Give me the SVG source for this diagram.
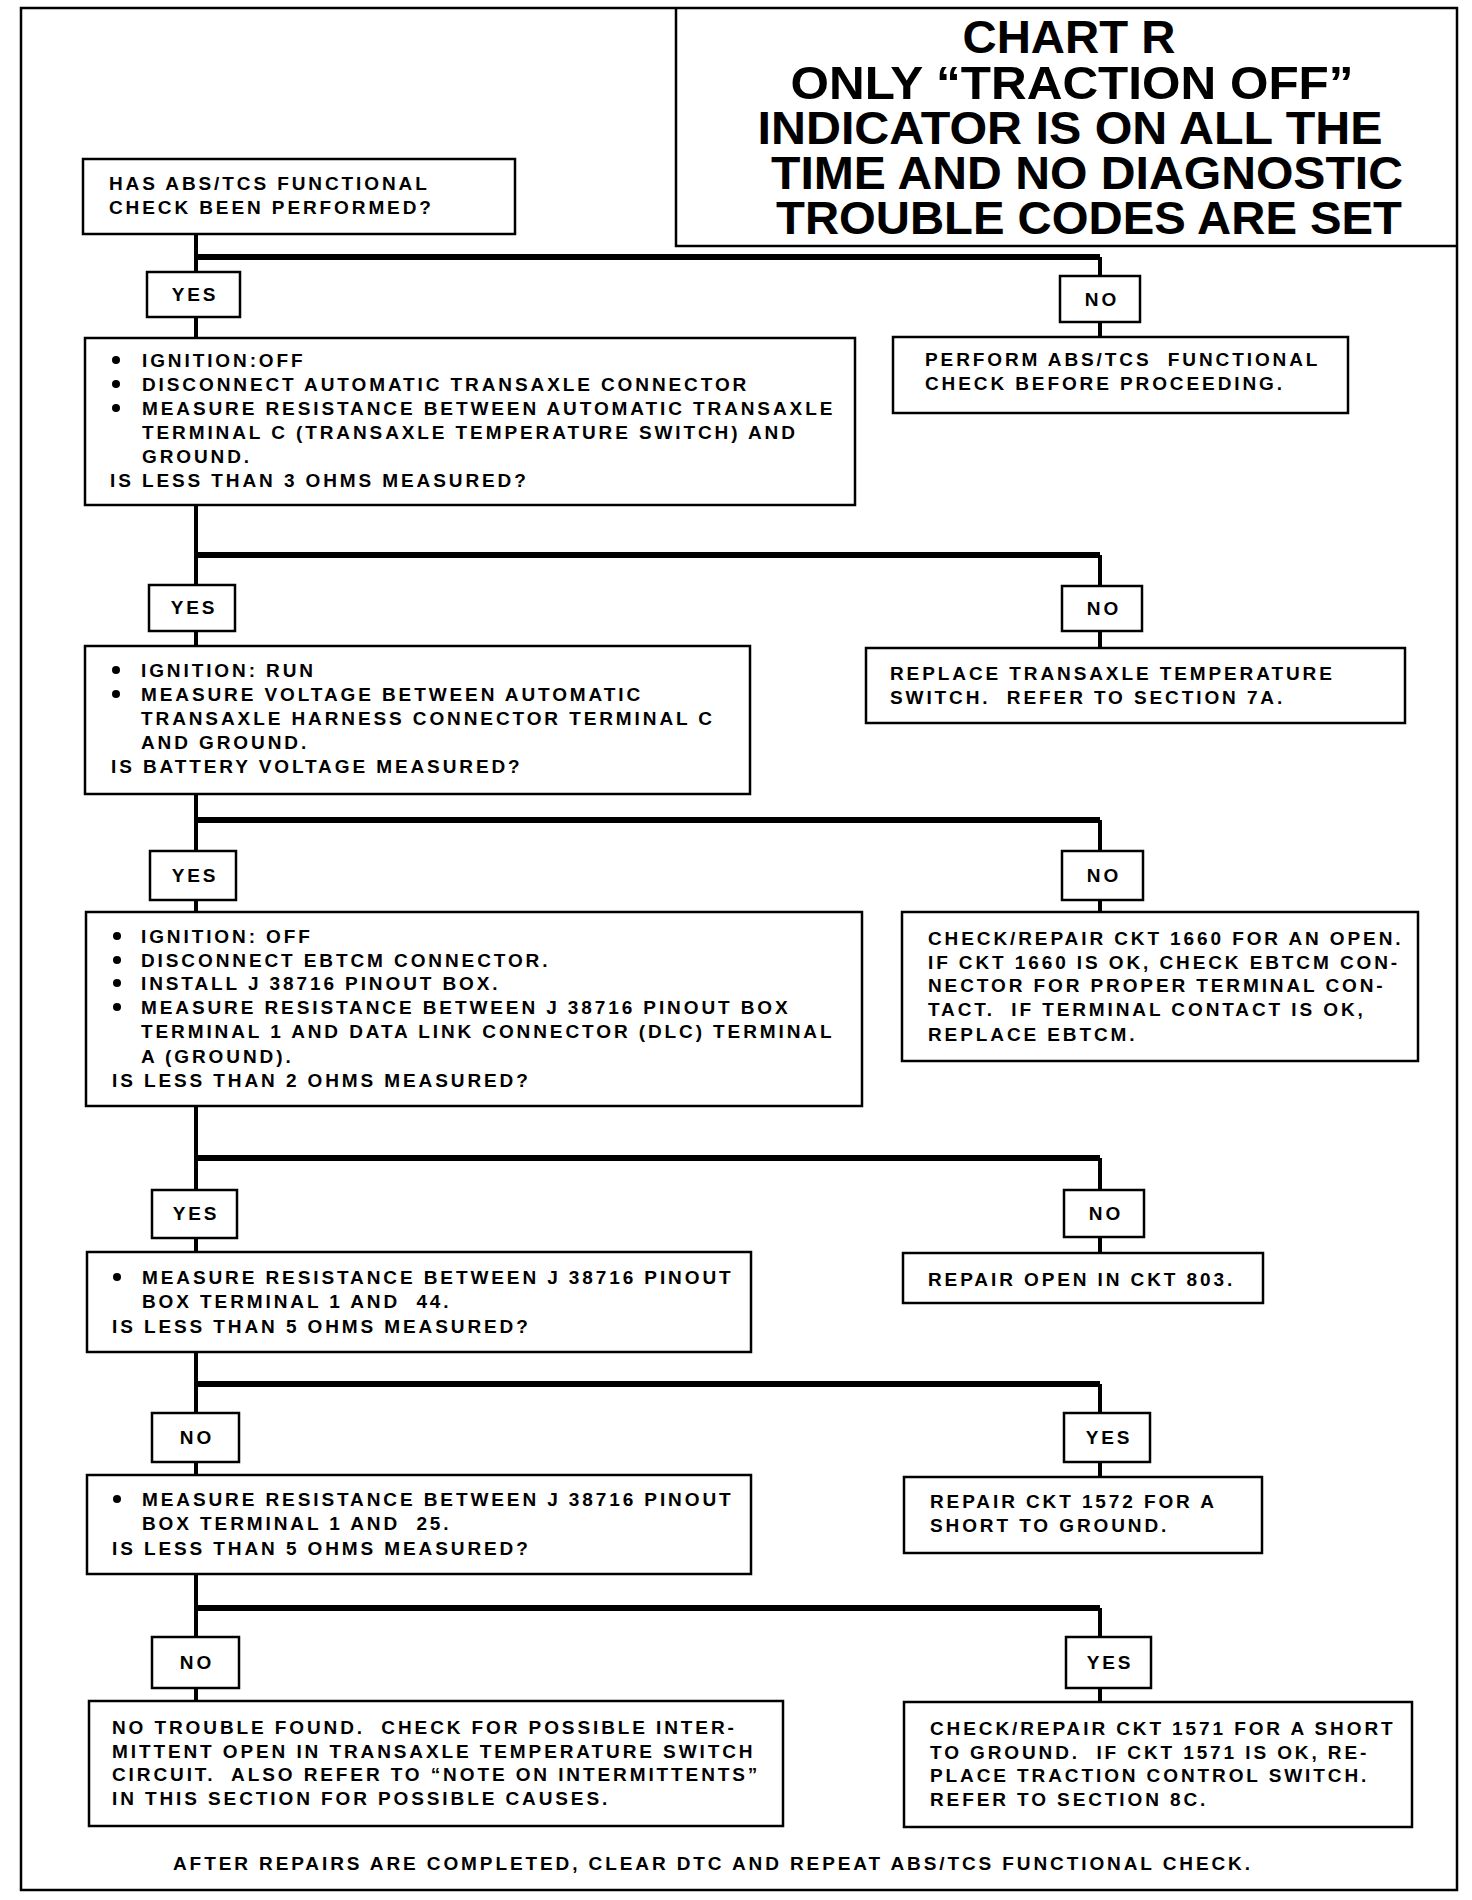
<svg xmlns="http://www.w3.org/2000/svg" width="1472" height="1900" viewBox="0 0 1472 1900">
<style>
.bx{fill:#fff;stroke:#000;stroke-width:2.5}
.fr{fill:none;stroke:#000;stroke-width:2.5}
.t{font-family:"Liberation Sans",Arial,sans-serif;font-size:19px;font-weight:bold;letter-spacing:2.9px;fill:#000;white-space:pre}
.lb{font-family:"Liberation Sans",Arial,sans-serif;font-size:19px;font-weight:bold;letter-spacing:2.9px;fill:#000;text-anchor:middle}
.ti{font-family:"Liberation Sans",Arial,sans-serif;font-size:47px;font-weight:bold;fill:#000;text-anchor:middle;white-space:pre}
.v{stroke:#000;stroke-width:4;fill:none}
.h{stroke:#000;stroke-width:6;fill:none}
</style>
<rect x="0" y="0" width="1472" height="1900" fill="#fff"/>
<rect class="fr" x="21" y="8" width="1436" height="1882"/>
<g id="title">
<path class="fr" d="M676 8 V246 H1457"/>
<text class="ti"><tspan x="1069" y="53" textLength="213" lengthAdjust="spacingAndGlyphs">CHART R</tspan><tspan x="1072" y="99" textLength="563" lengthAdjust="spacingAndGlyphs">ONLY “TRACTION OFF”</tspan><tspan x="1070" y="144" textLength="625" lengthAdjust="spacingAndGlyphs">INDICATOR IS ON ALL THE</tspan><tspan x="1087" y="189" textLength="632" lengthAdjust="spacingAndGlyphs">TIME AND NO DIAGNOSTIC</tspan><tspan x="1089" y="234" textLength="626" lengthAdjust="spacingAndGlyphs">TROUBLE CODES ARE SET</tspan></text>
</g>
<g id="connectors">
<path class="v" d="M196 234 V272 M1100 257 V276 M196 317 V338 M1100 322 V337"/>
<path class="h" d="M196 257 H1100"/>
<path class="v" d="M196 505 V585 M1100 555 V586 M196 631 V646 M1100 631 V648"/>
<path class="h" d="M196 555 H1100"/>
<path class="v" d="M196 794 V851 M1100 820 V851 M196 900 V912 M1100 900 V912"/>
<path class="h" d="M196 820 H1100"/>
<path class="v" d="M196 1106 V1190 M1100 1158 V1190 M196 1238 V1252 M1100 1237 V1253"/>
<path class="h" d="M196 1158 H1100"/>
<path class="v" d="M196 1352 V1413 M1100 1384 V1413 M196 1462 V1475 M1100 1462 V1477"/>
<path class="h" d="M196 1384 H1100"/>
<path class="v" d="M196 1574 V1637 M1100 1608 V1637 M196 1688 V1701 M1100 1688 V1702"/>
<path class="h" d="M196 1608 H1100"/>
</g>
<g id="nodeA">
<rect class="bx" x="83" y="159" width="432" height="75"/>
<text class="t" x="109" y="190">HAS ABS/TCS FUNCTIONAL</text>
<text class="t" x="109" y="214">CHECK BEEN PERFORMED?</text>
</g>
<g id="yes1"><rect class="bx" x="147" y="272" width="93" height="45"/><text class="lb" x="195" y="301">YES</text></g>
<g id="no1"><rect class="bx" x="1060" y="276" width="80" height="46"/><text class="lb" x="1102" y="306">NO</text></g>
<g id="nodeB">
<rect class="bx" x="85" y="338" width="770" height="167"/>
<circle cx="116" cy="360" r="4"/><text class="t" x="142" y="367">IGNITION:OFF</text>
<circle cx="116" cy="384" r="4"/><text class="t" x="142" y="391">DISCONNECT AUTOMATIC TRANSAXLE CONNECTOR</text>
<circle cx="116" cy="408" r="4"/><text class="t" x="142" y="415">MEASURE RESISTANCE BETWEEN AUTOMATIC TRANSAXLE</text>
<text class="t" x="142" y="439">TERMINAL C (TRANSAXLE TEMPERATURE SWITCH) AND</text>
<text class="t" x="142" y="463">GROUND.</text>
<text class="t" x="110" y="487">IS LESS THAN 3 OHMS MEASURED?</text>
</g>
<g id="nodeC">
<rect class="bx" x="893" y="337" width="455" height="76"/>
<text class="t" x="925" y="366">PERFORM ABS/TCS  FUNCTIONAL</text>
<text class="t" x="925" y="390">CHECK BEFORE PROCEEDING.</text>
</g>
<g id="yes2"><rect class="bx" x="149" y="585" width="86" height="46"/><text class="lb" x="194" y="614">YES</text></g>
<g id="no2"><rect class="bx" x="1062" y="586" width="80" height="45"/><text class="lb" x="1104" y="615">NO</text></g>
<g id="nodeD">
<rect class="bx" x="85" y="646" width="665" height="148"/>
<circle cx="116" cy="670" r="4"/><text class="t" x="141" y="677">IGNITION: RUN</text>
<circle cx="116" cy="694" r="4"/><text class="t" x="141" y="701">MEASURE VOLTAGE BETWEEN AUTOMATIC</text>
<text class="t" x="141" y="725">TRANSAXLE HARNESS CONNECTOR TERMINAL C</text>
<text class="t" x="141" y="749">AND GROUND.</text>
<text class="t" x="111" y="773">IS BATTERY VOLTAGE MEASURED?</text>
</g>
<g id="nodeE">
<rect class="bx" x="866" y="648" width="539" height="75"/>
<text class="t" x="890" y="680">REPLACE TRANSAXLE TEMPERATURE</text>
<text class="t" x="890" y="704">SWITCH.  REFER TO SECTION 7A.</text>
</g>
<g id="yes3"><rect class="bx" x="150" y="851" width="86" height="49"/><text class="lb" x="195" y="882">YES</text></g>
<g id="no3"><rect class="bx" x="1062" y="851" width="81" height="49"/><text class="lb" x="1104" y="882">NO</text></g>
<g id="nodeF">
<rect class="bx" x="86" y="912" width="776" height="194"/>
<circle cx="117" cy="936" r="4"/><text class="t" x="141" y="943">IGNITION: OFF</text>
<circle cx="117" cy="960" r="4"/><text class="t" x="141" y="967">DISCONNECT EBTCM CONNECTOR.</text>
<circle cx="117" cy="983" r="4"/><text class="t" x="141" y="990">INSTALL J 38716 PINOUT BOX.</text>
<circle cx="117" cy="1007" r="4"/><text class="t" x="141" y="1014">MEASURE RESISTANCE BETWEEN J 38716 PINOUT BOX</text>
<text class="t" x="141" y="1038">TERMINAL 1 AND DATA LINK CONNECTOR (DLC) TERMINAL</text>
<text class="t" x="141" y="1063">A (GROUND).</text>
<text class="t" x="112" y="1087">IS LESS THAN 2 OHMS MEASURED?</text>
</g>
<g id="nodeG">
<rect class="bx" x="902" y="912" width="516" height="149"/>
<text class="t" x="928" y="945">CHECK/REPAIR CKT 1660 FOR AN OPEN.</text>
<text class="t" x="928" y="969">IF CKT 1660 IS OK, CHECK EBTCM CON-</text>
<text class="t" x="928" y="992">NECTOR FOR PROPER TERMINAL CON-</text>
<text class="t" x="928" y="1016">TACT.  IF TERMINAL CONTACT IS OK,</text>
<text class="t" x="928" y="1041">REPLACE EBTCM.</text>
</g>
<g id="yes4"><rect class="bx" x="152" y="1190" width="85" height="48"/><text class="lb" x="196" y="1220">YES</text></g>
<g id="no4"><rect class="bx" x="1064" y="1190" width="80" height="47"/><text class="lb" x="1106" y="1220">NO</text></g>
<g id="nodeH">
<rect class="bx" x="87" y="1252" width="664" height="100"/>
<circle cx="117" cy="1277" r="4"/><text class="t" x="142" y="1284">MEASURE RESISTANCE BETWEEN J 38716 PINOUT</text>
<text class="t" x="142" y="1308">BOX TERMINAL 1 AND  44.</text>
<text class="t" x="112" y="1333">IS LESS THAN 5 OHMS MEASURED?</text>
</g>
<g id="nodeI">
<rect class="bx" x="903" y="1253" width="360" height="50"/>
<text class="t" x="928" y="1286">REPAIR OPEN IN CKT 803.</text>
</g>
<g id="no5"><rect class="bx" x="152" y="1413" width="87" height="49"/><text class="lb" x="197" y="1444">NO</text></g>
<g id="yes5"><rect class="bx" x="1064" y="1413" width="86" height="49"/><text class="lb" x="1109" y="1444">YES</text></g>
<g id="nodeJ">
<rect class="bx" x="87" y="1475" width="664" height="99"/>
<circle cx="117" cy="1499" r="4"/><text class="t" x="142" y="1506">MEASURE RESISTANCE BETWEEN J 38716 PINOUT</text>
<text class="t" x="142" y="1530">BOX TERMINAL 1 AND  25.</text>
<text class="t" x="112" y="1555">IS LESS THAN 5 OHMS MEASURED?</text>
</g>
<g id="nodeK">
<rect class="bx" x="904" y="1477" width="358" height="76"/>
<text class="t" x="930" y="1508">REPAIR CKT 1572 FOR A</text>
<text class="t" x="930" y="1532">SHORT TO GROUND.</text>
</g>
<g id="no6"><rect class="bx" x="152" y="1637" width="87" height="51"/><text class="lb" x="197" y="1669">NO</text></g>
<g id="yes6"><rect class="bx" x="1066" y="1637" width="85" height="51"/><text class="lb" x="1110" y="1669">YES</text></g>
<g id="nodeL">
<rect class="bx" x="89" y="1701" width="694" height="125"/>
<text class="t" x="112" y="1734">NO TROUBLE FOUND.  CHECK FOR POSSIBLE INTER-</text>
<text class="t" x="112" y="1758">MITTENT OPEN IN TRANSAXLE TEMPERATURE SWITCH</text>
<text class="t" x="112" y="1781">CIRCUIT.  ALSO REFER TO “NOTE ON INTERMITTENTS”</text>
<text class="t" x="112" y="1805">IN THIS SECTION FOR POSSIBLE CAUSES.</text>
</g>
<g id="nodeM">
<rect class="bx" x="904" y="1702" width="508" height="125"/>
<text class="t" x="930" y="1735">CHECK/REPAIR CKT 1571 FOR A SHORT</text>
<text class="t" x="930" y="1759">TO GROUND.  IF CKT 1571 IS OK, RE-</text>
<text class="t" x="930" y="1782">PLACE TRACTION CONTROL SWITCH.</text>
<text class="t" x="930" y="1806">REFER TO SECTION 8C.</text>
</g>
<g id="footer">
<text class="t" x="173" y="1870">AFTER REPAIRS ARE COMPLETED, CLEAR DTC AND REPEAT ABS/TCS FUNCTIONAL CHECK.</text>
</g>
</svg>
